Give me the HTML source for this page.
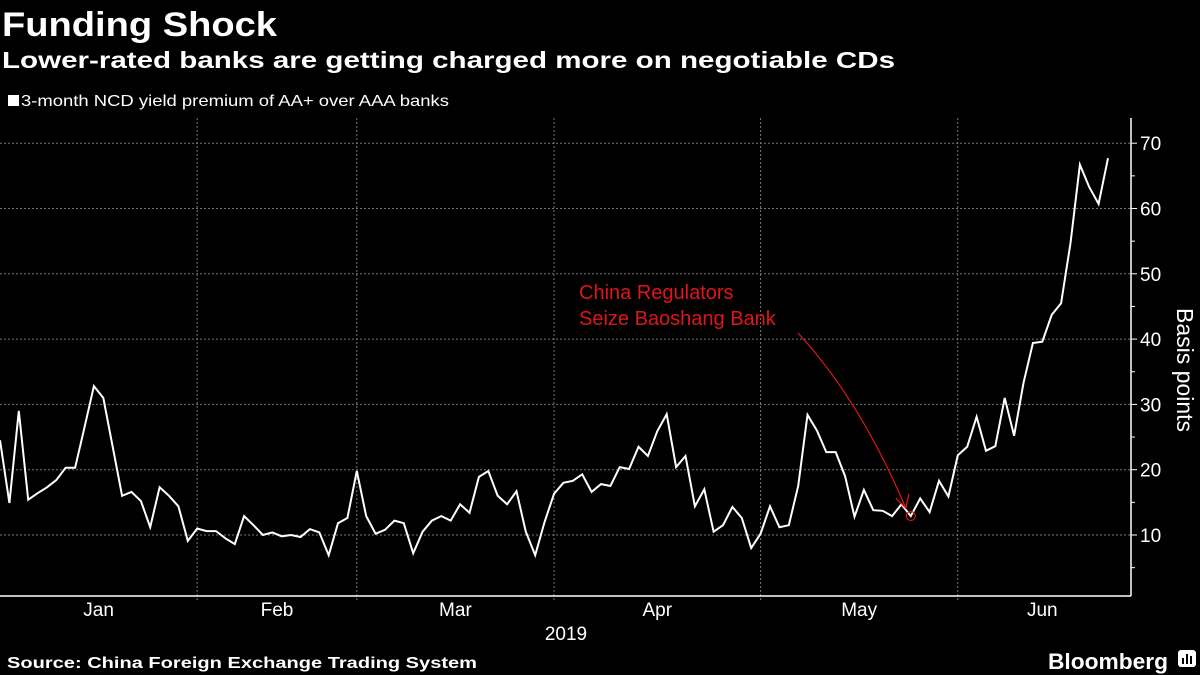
<!DOCTYPE html>
<html><head><meta charset="utf-8">
<style>
html,body{margin:0;padding:0;background:#000;}
svg{display:block;font-family:"Liberation Sans",sans-serif;}
</style></head>
<body>
<svg id="chart" width="1200" height="675" viewBox="0 0 1200 675" xmlns="http://www.w3.org/2000/svg">
<rect width="1200" height="675" fill="#000"/>
<text x="2" y="36" fill="#fff" font-size="34" font-weight="bold" textLength="275" lengthAdjust="spacingAndGlyphs">Funding Shock</text>
<text x="2" y="68" fill="#fff" font-size="23" font-weight="bold" textLength="893" lengthAdjust="spacingAndGlyphs">Lower-rated banks are getting charged more on negotiable CDs</text>
<rect x="8" y="95" width="11" height="11" fill="#fff"/>
<text x="21" y="106" fill="#fff" font-size="16" textLength="428" lengthAdjust="spacingAndGlyphs">3-month NCD yield premium of AA+ over AAA banks</text>
<g id="grid"></g>
<g id="axes"></g>
<g id="series"></g>
<g id="annot">
<text x="579" y="299" fill="#e0151b" font-size="20">China Regulators</text>
<text x="579" y="325" fill="#e0151b" font-size="20">Seize Baoshang Bank</text>
</g>
<text transform="translate(1177,370) rotate(90)" text-anchor="middle" fill="#fff" font-size="23">Basis points</text>
<text x="566" y="640" text-anchor="middle" fill="#fff" font-size="19">2019</text>
<text x="7" y="668" fill="#fff" font-size="16" font-weight="bold" textLength="470" lengthAdjust="spacingAndGlyphs">Source: China Foreign Exchange Trading System</text>
<text x="1048" y="669" fill="#fff" font-size="22" font-weight="bold" textLength="120" lengthAdjust="spacingAndGlyphs">Bloomberg</text>
<g>
<rect x="1178" y="650" width="18" height="17" rx="3" fill="#fff"/>
<rect x="1182" y="658" width="2" height="6" fill="#000"/><rect x="1186" y="654" width="2" height="10" fill="#000"/><rect x="1190" y="656" width="2" height="8" fill="#000"/>
</g>
</svg>
<script>
const values = [24.5,14.9,29,15.4,16.4,17.3,18.4,20.3,20.3,26.5,32.8,31,23.5,16,16.6,15.2,11.2,17.3,16,14.4,9.1,11,10.6,10.6,9.5,8.6,12.9,11.5,10,10.4,9.8,10,9.7,10.9,10.4,6.9,11.8,12.6,19.8,12.9,10.2,10.8,12.2,11.8,7.2,10.5,12.2,12.9,12.2,14.7,13.4,18.9,19.8,16,14.7,16.7,10.5,6.9,12,16.3,18,18.3,19.3,16.6,17.8,17.5,20.4,20.1,23.5,22.1,25.9,28.5,20.4,22.1,14.4,17,10.5,11.5,14.3,12.6,8,10.2,14.4,11.2,11.5,17.5,28.4,26,22.7,22.7,19,12.8,16.9,13.8,13.7,12.9,14.7,12.9,15.6,13.5,18.3,15.9,22.2,23.5,28.1,22.9,23.6,31,25.2,33.3,39.4,39.6,43.7,45.5,54.7,66.7,63.3,60.7,67.7];
const yTicks = [10,20,30,40,50,60,70];
const monthLabels = ["Jan","Feb","Mar","Apr","May","Jun"];
const monthStarts = [0,21,38,59,81,102,120];
const eventIndex = 97;

const NS="http://www.w3.org/2000/svg";
const X0=0, STEP=9.39;
function xs(i){return X0+i*STEP;}
function ys(v){return 535-(v-10)*6.53;}
const AXX=1131, AXY=596;
function mk(tag,attrs,parent){const e=document.createElementNS(NS,tag);for(const k in attrs)e.setAttribute(k,attrs[k]);parent.appendChild(e);return e;}
const grid=document.getElementById('grid'), axes=document.getElementById('axes'), series=document.getElementById('series');
yTicks.forEach(t=>{
  const g=mk('line',{x1:0,x2:AXX,y1:ys(t),y2:ys(t),stroke:'#777','stroke-width':1,'stroke-dasharray':'2,2'},grid);
  
  
  const tk=mk('line',{x1:AXX,x2:AXX+6,y1:ys(t),y2:ys(t),stroke:'#fff','stroke-width':1},axes);
  
  
  const lb=mk('text',{x:AXX+9,y:ys(t)+7,fill:'#fff','font-size':19},axes);
  lb.textContent=t;
  
  
});
for(let t=5;t<=65;t+=10){
  const m=mk('line',{x1:AXX,x2:AXX+4,y1:ys(t),y2:ys(t),stroke:'#fff','stroke-width':1},axes);
  
  
}
for(let i=1;i<monthStarts.length-1;i++){
  const x=xs(monthStarts[i]);
  const v=mk('line',{x1:x,x2:x,y1:118,y2:AXY+6,stroke:'#777','stroke-width':1,'stroke-dasharray':'2,2'},grid);
  
  
}
monthLabels.forEach((m,i)=>{
  const a=monthStarts[i], b=monthStarts[i+1];
  const lb=mk('text',{x:xs((a+b)/2),y:616,fill:'#fff','font-size':19,'text-anchor':'middle'},axes);
  lb.textContent=m;
  
  
});
const ax=mk('line',{x1:AXX,x2:AXX,y1:118,y2:AXY,stroke:'#fff','stroke-width':1.5},axes);


const bx=mk('line',{x1:0,x2:AXX,y1:AXY,y2:AXY,stroke:'#fff','stroke-width':1.5},axes);


const pts=values.map((v,i)=>xs(i).toFixed(1)+','+ys(v).toFixed(1)).join(' ');
const line=mk('polyline',{points:pts,fill:'none',stroke:'#fff','stroke-width':2,'stroke-linejoin':'miter'},series);


const ann=document.getElementById('annot');
const ex=xs(eventIndex), ey=ys(values[eventIndex]);
const c=mk('circle',{cx:ex,cy:ey,r:4.5,fill:'none',stroke:'#e0151b','stroke-width':1.2},ann);


const ar=mk('path',{d:`M798,333 Q860,400 ${ex-5},${ey-8}`,fill:'none',stroke:'#e0151b','stroke-width':1.2},ann);


const ah=mk('path',{d:`M${ex-15},${ey-18} L${ex-5},${ey-8} L${ex-2},${ey-22}`,fill:'none',stroke:'#e0151b','stroke-width':1.2},ann);


</script>
</body></html>
